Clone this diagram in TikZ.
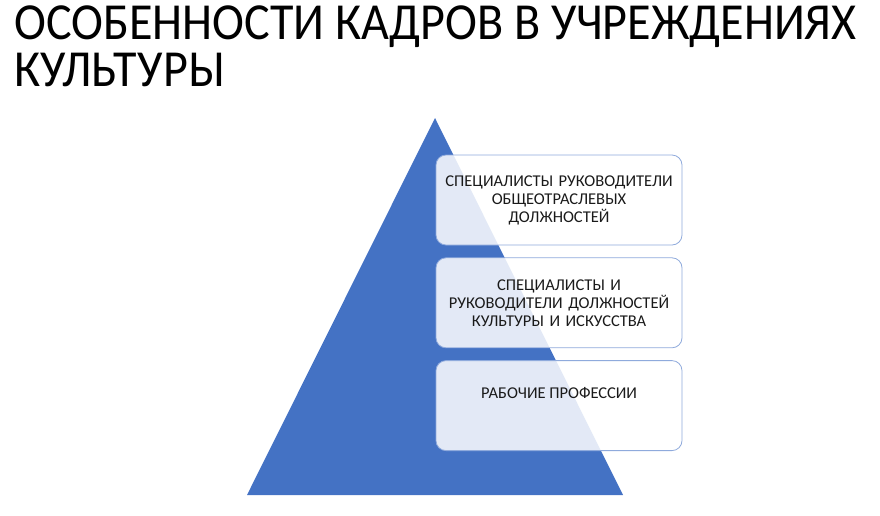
\documentclass[tikz,border=0pt]{standalone}
\usepackage{fontspec}
\setmainfont{Carlito}
\newfontfamily\titlefont[FakeStretch=0.925]{Carlito}
\usepackage{xcolor}
\usetikzlibrary{positioning}

\definecolor{pyrblue}{HTML}{4472C4}
\definecolor{boxline}{HTML}{8FAADC}
\definecolor{boxtext}{HTML}{1A1A1A}

\begin{document}
\begin{tikzpicture}[x=1pt,y=-1pt,
    level/.style={draw=boxline,line width=0.8pt,rounded corners=10pt,fill=white,fill opacity=0.85,text opacity=1,
                  minimum width=246pt,minimum height=90pt,align=center,text width=240pt,
                  font=\fontsize{16.5}{18}\selectfont,text=boxtext,inner sep=0pt},
    node distance=12pt]
        \useasboundingbox (0,0) rectangle (880,515);

        \node[anchor=north west,align=left,inner sep=0pt,font=\titlefont\fontsize{52}{47}\selectfont] (title) at (14,6)
            {ОСОБЕННОСТИ КАДРОВ В УЧРЕЖДЕНИЯХ\\КУЛЬТУРЫ};

        \coordinate (top) at (435,118);
        \coordinate (bl) at (247,495);
        \coordinate (br) at (623,495);
        \fill[pyrblue] (top) -- (br) -- (bl) -- cycle;

        \node[level] (L1) at (559,200) {СПЕЦИАЛИСТЫ РУКОВОДИТЕЛИ\\ОБЩЕОТРАСЛЕВЫХ\\ДОЛЖНОСТЕЙ};
        \node[level,below=of L1] (L2) {СПЕЦИАЛИСТЫ И\\РУКОВОДИТЕЛИ ДОЛЖНОСТЕЙ\\КУЛЬТУРЫ И ИСКУССТВА};
        \node[level,below=of L2] (L3) {};
        \node[font=\fontsize{16.5}{18}\selectfont,text=boxtext,inner sep=0pt] (L3text) at ([yshift=-33pt]L3.north) {РАБОЧИЕ ПРОФЕССИИ};

    \end{tikzpicture}
\end{document}
